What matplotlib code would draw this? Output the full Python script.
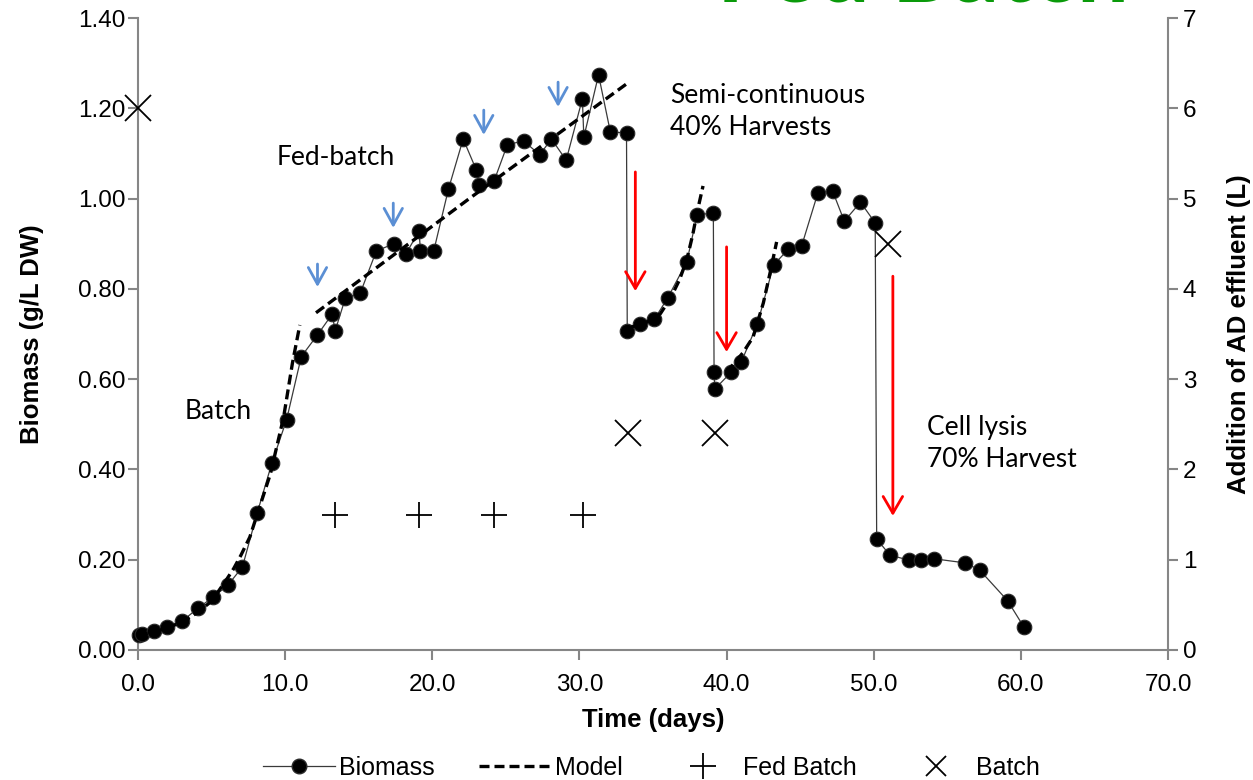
import numpy as np
import matplotlib.pyplot as plt
from matplotlib.lines import Line2D

plt.rcParams['font.family'] = ['Liberation Sans', 'DejaVu Sans']

# measured biomass (g/L DW) against time (days)
days = [0.1, 0.3, 1.1, 2.0, 3.0, 4.1, 5.1, 6.1, 7.1, 8.1, 9.1, 10.1, 11.1,
        12.2, 13.2, 13.4, 14.1, 15.1, 16.2, 17.4, 18.2, 19.1, 19.2, 20.1,
        21.1, 22.1, 23.0, 23.2, 24.2, 25.1, 26.2, 27.3, 28.1, 29.1, 30.2,
        30.3, 31.3, 32.1, 33.2, 33.25, 34.1, 35.1, 36.0, 37.3, 38.0, 39.1,
        39.15, 39.2, 40.3, 41.0, 42.1, 43.2, 44.2, 45.1, 46.2, 47.2, 48.0,
        49.1, 50.1, 50.2, 51.1, 52.4, 53.2, 54.1, 56.2, 57.2, 59.1, 60.2]
biomass = [0.033, 0.036, 0.042, 0.051, 0.064, 0.093, 0.117, 0.143, 0.184,
           0.303, 0.414, 0.510, 0.650, 0.698, 0.744, 0.707, 0.780, 0.790,
           0.884, 0.900, 0.877, 0.928, 0.884, 0.884, 1.021, 1.132, 1.063,
           1.030, 1.039, 1.119, 1.128, 1.097, 1.132, 1.085, 1.221, 1.136,
           1.274, 1.148, 1.145, 0.707, 0.722, 0.733, 0.780, 0.860, 0.964,
           0.968, 0.616, 0.578, 0.615, 0.638, 0.723, 0.853, 0.888, 0.895,
           1.012, 1.017, 0.950, 0.992, 0.946, 0.246, 0.210, 0.199, 0.199,
           0.202, 0.193, 0.177, 0.109, 0.051]

# model curves for each phase
model_batch_t = [0.0, 1.0, 2.0, 3.0, 4.0, 5.0, 6.0, 6.5, 7.0, 7.6, 8.3, 9.0,
                 9.9, 10.5, 11.0]
model_batch_x = [0.032, 0.039, 0.049, 0.062, 0.082, 0.108, 0.155, 0.180,
                 0.210, 0.250, 0.320, 0.390, 0.516, 0.636, 0.720]
model_fed_t = [12.1, 22.6, 33.2]
model_fed_x = [0.747, 1.002, 1.254]
model_semi1_t = [33.5, 34.5, 35.5, 36.2, 36.8, 37.3, 37.7, 38.0, 38.4]
model_semi1_x = [0.715, 0.725, 0.745, 0.780, 0.820, 0.865, 0.920, 0.970, 1.028]
model_semi2_t = [40.0, 41.1, 41.8, 42.5, 43.0, 43.4]
model_semi2_x = [0.615, 0.658, 0.693, 0.769, 0.842, 0.904]

# AD effluent additions (L)
fedbatch_t = [13.4, 19.1, 24.2, 30.25]
fedbatch_L = [1.5, 1.5, 1.5, 1.5]
batch_t = [0.0, 33.3, 39.2, 51.0]
batch_L = [6.0, 2.4, 2.4, 4.5]

# feeding arrows (blue) and harvest arrows (red)
feed_t = [12.2, 17.35, 23.5, 28.55]
feed_top = [0.855, 0.990, 1.196, 1.258]
feed_tip = [0.804, 0.935, 1.141, 1.203]
harv_t = [33.8, 40.0, 51.3]
harv_top = [1.059, 0.893, 0.828]
harv_tip = [0.795, 0.660, 0.297]

model_t = (model_batch_t + [np.nan] + model_fed_t + [np.nan] + model_semi1_t
           + [np.nan] + model_semi2_t)
model_x = (model_batch_x + [np.nan] + model_fed_x + [np.nan] + model_semi1_x
           + [np.nan] + model_semi2_x)

fig = plt.figure(figsize=(12.53, 7.80), dpi=100)
ax = fig.add_axes([0.1101, 0.1667, 0.8221, 0.8102])
ax2 = ax.twinx()

spine_c = '#868686'
tfs = 17.5

ax.plot(days, biomass, '-o', color='#3a3a3a', lw=0.9, ms=10.5,
        mfc='black', mec='#2a2a2a', mew=0.8, clip_on=False, zorder=3)
ax.plot(model_t, model_x, '--', color='black', lw=2.4, dashes=(3, 1.5),
        zorder=4)
ax2.plot(fedbatch_t, fedbatch_L, '+', color='black', ms=19, mew=1.3,
         clip_on=False)
ax2.plot(batch_t, batch_L, 'x', color='black', ms=19, mew=1.3,
         clip_on=False)

for t, a, b in zip(feed_t, feed_top, feed_tip):
    ax.annotate('', xy=(t, b), xytext=(t, a),
                arrowprops=dict(arrowstyle='->,head_length=0.6,head_width=0.33',
                                color='#5b8fd4', lw=2, shrinkA=0, shrinkB=0,
                                mutation_scale=20))
for t, a, b in zip(harv_t, harv_top, harv_tip):
    ax.annotate('', xy=(t, b), xytext=(t, a),
                arrowprops=dict(arrowstyle='->,head_length=0.6,head_width=0.35',
                                color='#ff0000', lw=2, shrinkA=0, shrinkB=0,
                                mutation_scale=20))

tk = dict(fontsize=19, family=['Lato', 'DejaVu Sans'], va='center')
ax.text(9.45, 1.092, 'Fed-batch', **tk)
ax.text(3.2, 0.529, 'Batch', **tk)
ax.text(36.15, 1.194, 'Semi-continuous\n40% Harvests', linespacing=1.35, **tk)
ax.text(53.6, 0.4575, 'Cell lysis\n70% Harvest', linespacing=1.35, **tk)

# title cut by the top edge, as in the source image
fig.text(0.572, 1 - 1 / 780, 'Fed Batch', color='#0a9a0a', fontsize=66,
         fontweight='bold', family=['Lato', 'DejaVu Sans'], va='baseline')

ax.set_xlim(0, 70)
ax.set_ylim(0, 1.4)
ax2.set_ylim(0, 7)
ax.set_xticks(np.arange(0, 71, 10))
ax.set_xticklabels(['%.1f' % v for v in np.arange(0, 71, 10)])
ax.set_yticks(np.arange(0, 1.41, 0.2))
ax.set_yticklabels(['%.2f' % v for v in np.arange(0, 1.41, 0.2)])
ax2.set_yticks(range(8))

for a in (ax, ax2):
    a.spines['top'].set_visible(False)
    for s in a.spines.values():
        s.set_color(spine_c)
        s.set_linewidth(1.5)
    a.tick_params(colors=spine_c, labelcolor='black', labelsize=tfs,
                  length=7, width=1.5)
ax.tick_params(axis='x', pad=10)
ax.tick_params(axis='y', pad=2)
ax.spines['right'].set_visible(False)
ax2.spines['left'].set_visible(False)
ax2.spines['bottom'].set_visible(False)

ax.set_xlabel('Time (days)', fontsize=18.5, fontweight='bold', labelpad=9)
ax.set_ylabel('Biomass (g/L DW)', fontsize=18.5, fontweight='bold',
              labelpad=24)
ax2.set_ylabel('Addition of AD effluent (L)', fontsize=18.5,
               fontweight='bold', labelpad=22)

handles = [Line2D([], [], color='#3a3a3a', lw=0.9, marker='o', ms=10.5,
                  mfc='black', mec='#2a2a2a'),
           Line2D([], [], color='black', ls='--', lw=2.4, dashes=(3, 1.5)),
           Line2D([], [], ls='none', marker='+', color='black', ms=19,
                  mew=1.3),
           Line2D([], [], ls='none', marker='x', color='black', ms=14,
                  mew=1.3)]
fig.legend(handles, ['Biomass', 'Model', 'Fed Batch', 'Batch'], loc='center',
           bbox_to_anchor=(0.52, 0.016), ncol=4, frameon=False, fontsize=18,
           handlelength=2.9, handletextpad=0.15, columnspacing=1.75,
           borderpad=0, borderaxespad=0)

fig.savefig('out.png', dpi=100)
